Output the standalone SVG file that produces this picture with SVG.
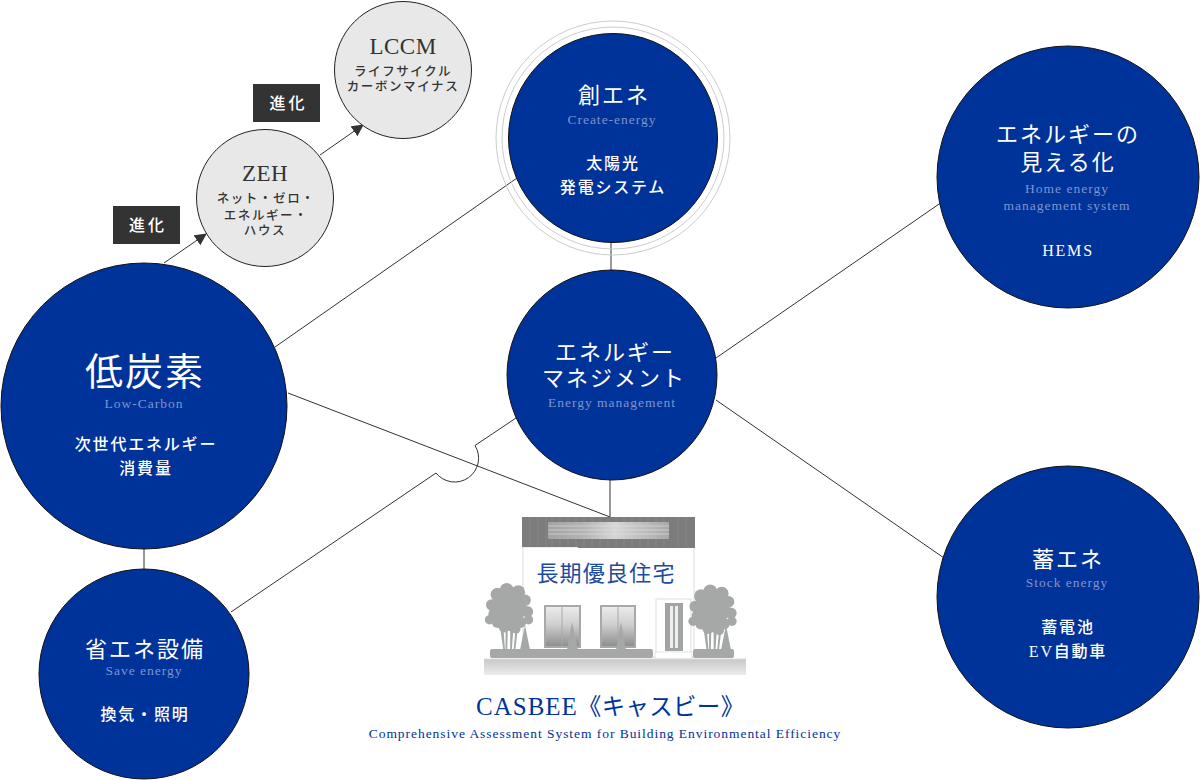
<svg xmlns="http://www.w3.org/2000/svg" width="1200" height="780" viewBox="0 0 1200 780">
<defs>
<marker id="arr" markerUnits="userSpaceOnUse" markerWidth="14" markerHeight="14" refX="11" refY="6" orient="auto"><path d="M0,0L12,6L0,12Z" fill="#333"/></marker>
<linearGradient id="glass" x1="0" y1="0" x2="0" y2="1"><stop offset="0" stop-color="#ececec"/><stop offset="0.45" stop-color="#cfcfcf"/><stop offset="1" stop-color="#8c8c8c"/></linearGradient>
<linearGradient id="ground" x1="0" y1="0" x2="0" y2="1"><stop offset="0" stop-color="#c8c8c8"/><stop offset="1" stop-color="#ececec"/></linearGradient>
<linearGradient id="panel" x1="0" y1="0" x2="1" y2="0"><stop offset="0" stop-color="#a2a2a2"/><stop offset="0.3" stop-color="#b4b4b4"/><stop offset="0.55" stop-color="#d6d6d6"/><stop offset="1" stop-color="#a8a8a8"/></linearGradient>
<g id="crown"><circle cx="0" cy="-2" r="15"/><circle cx="-10" cy="-13" r="6"/><circle cx="-2" cy="-17" r="6"/><circle cx="8" cy="-15" r="6"/><circle cx="14" cy="-8" r="5"/><circle cx="-15" cy="-4" r="5"/><circle cx="-13" cy="4" r="5"/><circle cx="-17" cy="9" r="4"/><circle cx="-10" cy="11" r="5"/><circle cx="16" cy="2" r="5"/><circle cx="17" cy="9" r="4"/><circle cx="10" cy="11" r="5"/><circle cx="2" cy="13" r="6"/><circle cx="-4" cy="15" r="5"/><circle cx="6" cy="17" r="4"/><path d="M-8,14L-5,35H-3.500L-5,14ZM-3,14L-3,35H-1.500L-1,14ZM1,14L1,35H2.500L4,14ZM6,14L4,35H5.500L8,14Z"/></g>
</defs>
<style>
text{font-family:"Liberation Serif","Noto Sans CJK JP",serif;text-anchor:middle}
.blue{fill:#003399;stroke:#111;stroke-width:1}
.grey{fill:#e8e8e8;stroke:#222;stroke-width:1}
.ring{fill:none;stroke:#ccc;stroke-width:1}
.w{fill:#fff}
.sub{fill:#7f93cc;font-size:13.500px;letter-spacing:1px}
.t22{font-size:22px;letter-spacing:2px}
.desc{fill:#fff;font-size:16px;letter-spacing:1.800px;font-weight:500}
.g{fill:#333;letter-spacing:.5px}
.gs{fill:#333;font-size:12.500px;letter-spacing:1.600px;font-weight:500}
.c{fill:none;stroke:#333;stroke-width:1}
.tag{fill:#333}
.pl{fill:#a6a8a8}
.seam{stroke:#8e8e8e;stroke-width:.7}
</style>
<g id="connectors">
<path class="c" d="M275,347L517,178"/>
<path class="c" d="M288,393L610,517"/>
<path class="c" d="M611,240V272"/>
<path class="c" d="M610,478V517"/>
<path class="c" d="M144,548V572"/>
<path class="c" d="M716,358L942,202"/>
<path class="c" d="M716,400L944,558"/>
<path class="c" d="M231,612L436,473A23.900,23.900 0 0 0 475,445.500L516,418"/>
<path class="c" d="M164,263L206,234" marker-end="url(#arr)"/>
<path class="c" d="M320,155L363,125" marker-end="url(#arr)"/>
</g>
<g id="tag1"><rect class="tag" x="113" y="206" width="67" height="38"/><text class="w" x="148" y="231" font-size="16" font-weight="500" letter-spacing="3">進化</text></g>
<g id="tag2"><rect class="tag" x="253" y="84" width="67" height="38"/><text class="w" x="288.500" y="109" font-size="16" font-weight="500" letter-spacing="3">進化</text></g>
<g id="lccm"><circle class="grey" cx="403" cy="70" r="68.500"/><text class="g" x="403" y="54" font-size="23">LCCM</text><text class="gs" x="403" y="76">ライフサイクル</text><text class="gs" x="403" y="91">カーボンマイナス</text></g>
<g id="zeh"><circle class="grey" cx="265" cy="198" r="68.500"/><text class="g" x="265" y="181" font-size="23">ZEH</text><text class="gs" x="266" y="203" letter-spacing="1.200">ネット・ゼロ・</text><text class="gs" x="266" y="220">エネルギー・</text><text class="gs" x="265" y="235">ハウス</text></g>
<g id="low-carbon"><circle class="blue" cx="144" cy="406" r="143"/><text class="w" x="145" y="385" font-size="38" letter-spacing="2">低炭素</text><text class="sub" x="144" y="408">Low-Carbon</text><text class="desc" x="146" y="450" letter-spacing="2.200">次世代エネルギー</text><text class="desc" x="146" y="474">消費量</text></g>
<g id="create"><circle class="ring" cx="613" cy="138" r="117"/><circle class="ring" cx="613" cy="138" r="111"/><circle class="blue" cx="613" cy="138" r="104.500"/><text class="w t22" x="614" y="103">創エネ</text><text class="sub" x="612" y="124">Create-energy</text><text class="desc" x="613" y="169">太陽光</text><text class="desc" x="613" y="193">発電システム</text></g>
<g id="management"><circle class="blue" cx="612" cy="375" r="105"/><text class="w t22" x="615" y="360" letter-spacing="1.600">エネルギー</text><text class="w t22" x="614" y="386" letter-spacing="1.600">マネジメント</text><text class="sub" x="612" y="407">Energy management</text></g>
<g id="save"><circle class="blue" cx="144" cy="674" r="105"/><text class="w t22" x="145" y="657" letter-spacing="2.300">省エネ設備</text><text class="sub" x="144" y="675">Save energy</text><text class="desc" x="145" y="720">換気・照明</text></g>
<g id="hems"><circle class="blue" cx="1068" cy="177" r="131"/><text class="w t22" x="1068" y="142" letter-spacing="2.500">エネルギーの</text><text class="w t22" x="1068" y="170">見える化</text><text class="sub" x="1067" y="193">Home energy</text><text class="sub" x="1067" y="210">management system</text><text class="desc" x="1068" y="256" font-weight="700">HEMS</text></g>
<g id="stock"><circle class="blue" cx="1068" cy="597" r="131"/><text class="w t22" x="1068" y="567">蓄エネ</text><text class="sub" x="1067" y="587">Stock energy</text><text class="desc" x="1068" y="633">蓄電池</text><text class="desc" x="1068" y="657" letter-spacing="2">EV自動車</text></g>
<g id="house">
<rect x="484" y="659" width="262" height="16" fill="url(#ground)"/>
<rect x="523" y="547" width="171" height="110" fill="#fff" stroke="#ddd"/>
<path d="M522,517H695V548H578V547H522Z" fill="#7c7c7c"/>
<g class="seam"><path d="M530,517V547M538,517V547M546,517V547M678,517V547M686,517V547M552,539V547M560,539V547M568,539V547M576,539V547M584,539V547M592,539V547M600,539V547M608,539V547M616,539V547M624,539V547M632,539V547M640,539V547M648,539V547M656,539V547M664,539V547M552,517V522M560,517V522M568,517V522M576,517V522M584,517V522M592,517V522M600,517V522M608,517V522M616,517V522M624,517V522M632,517V522M640,517V522M648,517V522M656,517V522M664,517V522"/></g>
<rect x="548" y="522" width="121" height="17" fill="url(#panel)"/>
<path d="M548,526H669M548,530H669M548,534H669" stroke="#e2e2e2" stroke-width=".6"/>
<rect x="545" y="606" width="35" height="41" fill="url(#glass)" stroke="#a8a8a8" stroke-width="2"/><path d="M562,606V647" stroke="#aaa"/>
<rect x="601" y="606" width="34" height="41" fill="url(#glass)" stroke="#a8a8a8" stroke-width="2"/><path d="M618,606V647" stroke="#aaa"/>
<rect x="656" y="599" width="35" height="54" fill="#fff" stroke="#ddd"/>
<rect x="665" y="603" width="18" height="48" fill="#a0a4a4"/>
<rect x="670" y="606" width="3" height="42" fill="#eee"/><rect x="675" y="606" width="3" height="42" fill="#eee"/>
<g class="pl">
<use href="#crown" transform="translate(509,609.500) scale(1.150)"/>
<use href="#crown" transform="translate(712.500,611) scale(1.150)"/>
<path d="M520,650L525,625L530,650ZM567,650L572,622L578,650ZM616,650L621,622L626,650ZM721,650L726,625L731,650Z"/>
<rect x="490" y="649" width="163" height="9" rx="2"/>
<rect x="693" y="649" width="41" height="9" rx="2"/>
</g>
<rect x="655" y="652" width="37" height="7" fill="#fff" stroke="#ccc" stroke-width=".5"/>
<path d="M484,659H746" stroke="#ddd"/>
<text x="606" y="581" font-size="22" letter-spacing="1.200" fill="#1c4aa0">長期優良住宅</text>
</g>
<g id="casbee"><text x="476" y="715" font-size="25" letter-spacing="1" fill="#003399" style="text-anchor:start">CASBEE<tspan font-size="23.500" letter-spacing=".3">《キャスビー》</tspan></text><text x="605" y="738" font-size="13.500" letter-spacing=".95" fill="#003399">Comprehensive Assessment System for Building Environmental Efficiency</text></g>
</svg>
